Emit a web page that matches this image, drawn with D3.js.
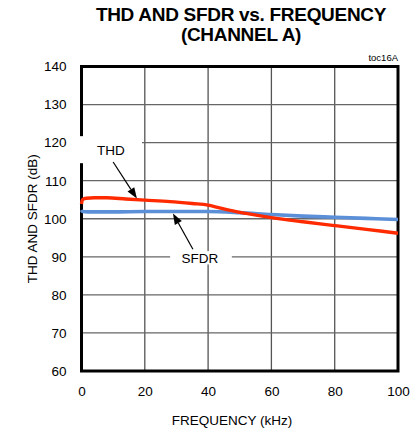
<!DOCTYPE html>
<html><head><meta charset="utf-8">
<script src="https://cdn.jsdelivr.net/npm/d3@7"></script>
<style>body{margin:0;background:#fff}svg{display:block}text{font-family:"Liberation Sans",Arial,sans-serif}</style>
</head><body><svg id="c" width="419" height="433"></svg>
<script>
const xTicks = [0, 20, 40, 60, 80, 100];
const yTicks = [60, 70, 80, 90, 100, 110, 120, 130, 140];
const thdFreq = [0, 0.3, 1.5, 4, 8, 14, 20, 28, 35, 40, 43, 47, 52, 60, 70, 80, 90, 100];
const thdVal  = [103.9, 105.0, 105.4, 105.5, 105.5, 105.2, 104.9, 104.5, 104.0, 103.6, 103.0, 102.2, 101.4, 100.3, 99.2, 98.2, 97.2, 96.2];
const sfdrFreq = [0, 0.3, 2, 10, 20, 30, 40, 50, 60, 70, 80, 90, 100];
const sfdrVal  = [102.3, 101.9, 101.8, 101.8, 101.9, 101.9, 101.9, 101.6, 101.1, 100.7, 100.4, 100.1, 99.8];

const svg = d3.select("#c");
const L = 81.5, R = 398, T = 66.5, B = 371;
const x = d3.scaleLinear().domain([0, 100]).range([L, R]);
const y = d3.scaleLinear().domain([60, 140]).range([B, T]);

// grid
const g = svg.append("g");
g.selectAll(".vg").data(xTicks.slice(1, -1)).join("line")
  .attr("x1", d => x(d)).attr("x2", d => x(d)).attr("y1", T).attr("y2", B)
  .attr("stroke", "#555").attr("stroke-width", 1.3);
g.selectAll(".hg").data(yTicks.slice(1, -1)).join("line")
  .attr("x1", L).attr("x2", R).attr("y1", d => y(d)).attr("y2", d => y(d))
  .attr("stroke", "#666").attr("stroke-width", 1.3);

const yAxis = svg.append("g").attr("transform", `translate(${L},0)`)
  .call(d3.axisLeft(y).tickValues(yTicks).tickSize(0).tickPadding(15));
yAxis.select(".domain").remove();
yAxis.selectAll("text").attr("font-size", 13.5).attr("fill", "#000").attr("font-family", "Liberation Sans, Arial");
const xAxis = svg.append("g").attr("transform", `translate(0,${B})`)
  .call(d3.axisBottom(x).tickValues(xTicks).tickSize(0).tickPadding(15));
xAxis.select(".domain").remove();
xAxis.selectAll("text").attr("font-size", 13.5).attr("fill", "#000").attr("font-family", "Liberation Sans, Arial");

// frame
svg.append("rect").attr("x", L).attr("y", T).attr("width", R - L).attr("height", B - T)
  .attr("fill", "none").attr("stroke", "#000").attr("stroke-width", 3);

// white boxes behind labels
svg.append("rect").attr("x", x(-1.8)).attr("y", y(121.7)).attr("width", x(19.1) - x(-1.8)).attr("height", y(114.6) - y(121.7)).attr("fill", "#fff");
svg.append("rect").attr("x", x(28)).attr("y", y(91.5)).attr("width", x(47.5) - x(28)).attr("height", y(88) - y(91.5)).attr("fill", "#fff");

// curves
const mk = (fx, fv) => d3.line().curve(d3.curveMonotoneX)(fx.map((f, i) => [x(f), y(fv[i])]));
svg.append("path").attr("d", mk(sfdrFreq, sfdrVal)).attr("fill", "none")
  .attr("stroke", "#5b8fd8").attr("stroke-width", 3.6);
svg.append("path").attr("d", mk(thdFreq, thdVal)).attr("fill", "none")
  .attr("stroke", "#ff2a00").attr("stroke-width", 3.4);

// annotations
function arrow(x1, y1, x2, y2) {
  const ax1 = x(x1), ay1 = y(y1), ax2 = x(x2), ay2 = y(y2);
  const ang = Math.atan2(ay2 - ay1, ax2 - ax1);
  const hl = 11, hw = 4;
  const bx = ax2 - hl * Math.cos(ang), by = ay2 - hl * Math.sin(ang);
  svg.append("line").attr("x1", ax1).attr("y1", ay1).attr("x2", bx).attr("y2", by)
    .attr("stroke", "#000").attr("stroke-width", 1.2);
  const px = -Math.sin(ang) * hw, py = Math.cos(ang) * hw;
  svg.append("path").attr("d", `M${ax2},${ay2}L${bx + px},${by + py}L${bx - px},${by - py}Z`).attr("fill", "#000");
}
arrow(10, 114.9, 17.5, 105.3);
arrow(35.2, 92.0, 28.9, 101.4);
svg.append("text").attr("x", x(9.3)).attr("y", y(116.7)).attr("text-anchor", "middle")
  .attr("font-size", 13.5).text("THD");
svg.append("text").attr("x", x(37.4)).attr("y", y(88.4)).attr("text-anchor", "middle")
  .attr("font-size", 13.5).text("SFDR");

// titles
svg.append("text").attr("x", 241).attr("y", 21).attr("text-anchor", "middle")
  .attr("font-size", 19).attr("font-weight", "bold").attr("letter-spacing", -0.3).text("THD AND SFDR vs. FREQUENCY");
svg.append("text").attr("x", 241).attr("y", 41).attr("text-anchor", "middle")
  .attr("font-size", 19).attr("font-weight", "bold").attr("letter-spacing", -0.3).text("(CHANNEL A)");
svg.append("text").attr("x", 398).attr("y", 61).attr("text-anchor", "end")
  .attr("font-size", 9.5).text("toc16A");
svg.append("text").attr("x", 232).attr("y", 425).attr("text-anchor", "middle")
  .attr("font-size", 13.5).text("FREQUENCY (kHz)");
svg.append("text").attr("transform", `translate(37,${(T + B) / 2}) rotate(-90)`).attr("text-anchor", "middle")
  .attr("font-size", 13.5).text("THD AND SFDR (dB)");
</script></body></html>
